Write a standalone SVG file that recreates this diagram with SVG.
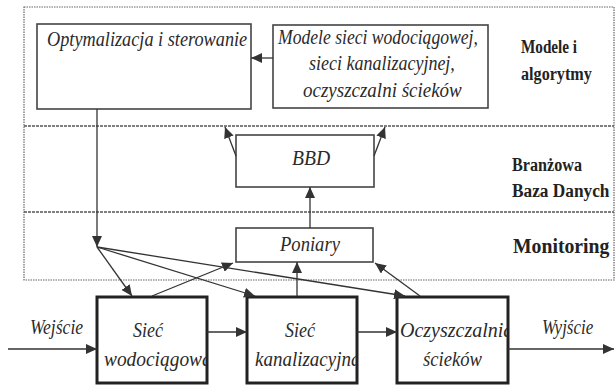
<svg xmlns="http://www.w3.org/2000/svg" width="615" height="387" viewBox="0 0 615 387">
<style>
.frame{fill:none;stroke:#666;stroke-width:1.2;stroke-dasharray:1.5 1}
.div{fill:none;stroke:#555;stroke-width:1.4;stroke-dasharray:3 1}
.box{fill:#fff;stroke:#444;stroke-width:1.6}
.bbox{fill:#fff;stroke:#222;stroke-width:3}
.it{font-family:"Liberation Serif","Times New Roman",serif;font-style:italic;font-size:20px;fill:#2a2a2a}
.lab{font-family:"Liberation Serif","Times New Roman",serif;font-weight:bold;font-size:19px;fill:#222}
.c{fill:none;stroke:#333;stroke-width:1.3}
</style>
<defs>
<marker id="ah" markerUnits="userSpaceOnUse" markerWidth="12" markerHeight="10" refX="11" refY="5" orient="auto">
<path d="M0,0 L11,5 L0,10 z" fill="#333"/>
</marker>
<clipPath id="cw"><rect x="98" y="298" width="108" height="84"/></clipPath>
<clipPath id="ck"><rect x="248" y="298" width="108" height="84"/></clipPath>
<clipPath id="co"><rect x="398" y="298" width="109" height="84"/></clipPath>
</defs>

<g id="bands">
<rect class="frame" x="24" y="7" width="590" height="273"/>
<line class="div" x1="24" y1="126" x2="614" y2="126"/>
<line class="div" x1="24" y1="212" x2="614" y2="212"/>
<text class="lab" transform="translate(521,53) scale(0.8,1)">Modele i</text>
<text class="lab" transform="translate(521,80) scale(0.85,1)">algorytmy</text>
<text class="lab" transform="translate(512,171) scale(0.85,1)">Branżowa</text>
<text class="lab" transform="translate(512,197) scale(0.91,1)">Baza Danych</text>
<text class="lab" style="font-size:21px" transform="translate(513,253) scale(0.94,1)">Monitoring</text>
</g>

<g id="opt">
<rect class="box" x="37" y="24" width="214" height="85"/>
<text class="it" transform="translate(47,46) scale(0.914,1)">Optymalizacja i sterowanie</text>
</g>

<g id="modele">
<rect class="box" x="273" y="25" width="215" height="83"/>
<text class="it" transform="translate(278,44) scale(0.88,1)">Modele sieci wodociągowej,</text>
<text class="it" transform="translate(309,70) scale(0.9,1)">sieci kanalizacyjnej,</text>
<text class="it" transform="translate(303,97) scale(0.95,1)">oczyszczalni ścieków</text>
</g>

<g id="bbd">
<rect class="box" x="236" y="135" width="138" height="52"/>
<text class="it" transform="translate(292,165) scale(0.98,1)">BBD</text>
</g>

<g id="pomiary">
<rect class="box" x="236" y="228" width="137" height="34"/>
<text class="it" transform="translate(280,251) scale(0.93,1)">Poniary</text>
</g>

<g id="wod">
<rect class="bbox" x="97" y="297" width="110" height="86"/>
<g clip-path="url(#cw)">
<text class="it" transform="translate(133,337) scale(0.9,1)">Sieć</text>
<text class="it" transform="translate(104,366) scale(0.97,1)">wodociągowa</text>
</g>
</g>

<g id="kan">
<rect class="bbox" x="247" y="297" width="110" height="86"/>
<g clip-path="url(#ck)">
<text class="it" transform="translate(285,337) scale(0.9,1)">Sieć</text>
<text class="it" transform="translate(255,366) scale(0.95,1)">kanalizacyjna</text>
</g>
</g>

<g id="ocz">
<rect class="bbox" x="397" y="297" width="111" height="86"/>
<g clip-path="url(#co)">
<text class="it" transform="translate(400,337) scale(1,1)">Oczyszczalnia</text>
<text class="it" transform="translate(423,366) scale(0.93,1)">ścieków</text>
</g>
</g>

<g id="labels">
<text class="it" transform="translate(30,334) scale(0.88,1)">Wejście</text>
<text class="it" transform="translate(542,334) scale(0.85,1)">Wyjście</text>
</g>

<g id="connectors">
<line class="c" x1="273" y1="58" x2="251" y2="58" marker-end="url(#ah)"/>
<line class="c" x1="97" y1="109" x2="97" y2="247" marker-end="url(#ah)"/>
<line class="c" x1="97" y1="247" x2="132" y2="296" marker-end="url(#ah)"/>
<line class="c" x1="97" y1="247" x2="255" y2="296" marker-end="url(#ah)"/>
<line class="c" x1="97" y1="247" x2="405" y2="296" marker-end="url(#ah)"/>
<line class="c" x1="152" y1="296" x2="233" y2="263" marker-end="url(#ah)"/>
<line class="c" x1="297" y1="296" x2="297" y2="262" marker-end="url(#ah)"/>
<line class="c" x1="420" y1="296" x2="375" y2="263" marker-end="url(#ah)"/>
<line class="c" x1="310" y1="228" x2="310" y2="187" marker-end="url(#ah)"/>
<line class="c" x1="236" y1="156" x2="225" y2="127" marker-end="url(#ah)"/>
<line class="c" x1="374" y1="156" x2="385" y2="127" marker-end="url(#ah)"/>
<line class="c" x1="8" y1="349" x2="97" y2="349" marker-end="url(#ah)"/>
<line class="c" x1="207" y1="332" x2="247" y2="332" marker-end="url(#ah)"/>
<line class="c" x1="357" y1="332" x2="397" y2="332" marker-end="url(#ah)"/>
<line class="c" x1="508" y1="349" x2="614" y2="349" marker-end="url(#ah)"/>
</g>
</svg>
